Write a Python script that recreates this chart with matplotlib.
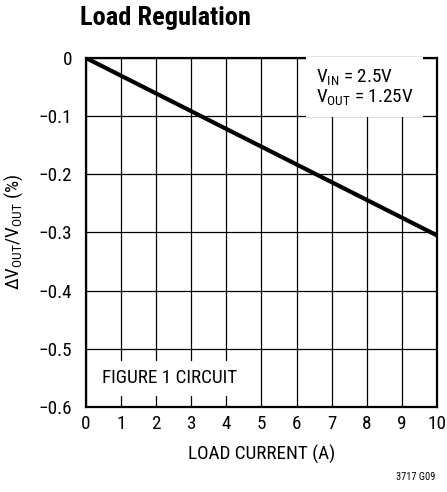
import matplotlib
matplotlib.use("Agg")
import matplotlib.pyplot as plt

fam = 'Roboto Condensed'
plt.rcParams['font.family'] = [fam, 'DejaVu Sans']
plt.rcParams['mathtext.fontset'] = 'custom'
plt.rcParams['mathtext.rm'] = fam
plt.rcParams['mathtext.it'] = fam
plt.rcParams['mathtext.bf'] = fam

load_current = [0, 10]
delta_vout = [0.0, -0.305]
x_ticks = list(range(0, 11))
y_ticks = [0, -0.1, -0.2, -0.3, -0.4, -0.5, -0.6]
y_tick_labels = ['0', '\u22120.1', '\u22120.2', '\u22120.3', '\u22120.4', '\u22120.5', '\u22120.6']

fs = 13.8
fig = plt.figure(figsize=(4.47, 4.92), dpi=100)
ax = fig.add_axes([0.1924, 0.1728, 0.7852, 0.7093])
ax.set_xlim(0, 10)
ax.set_ylim(-0.6, 0)
ax.set_xticks(x_ticks)
ax.set_yticks(y_ticks)
ax.set_yticklabels(y_tick_labels)
ax.grid(True, color='black', linewidth=0.9)
ax.tick_params(length=0, labelsize=fs)
ax.tick_params(axis='y', pad=10)
ax.tick_params(axis='x', pad=6)
for s in ax.spines.values():
    s.set_linewidth(1.6)
ax.plot(load_current, delta_vout, color='black', linewidth=3, solid_capstyle='butt', zorder=3)

ax.text(6.55, -0.05, 'V$_{\\mathregular{IN}}$ = 2.5V\nV$_{\\mathregular{OUT}}$ = 1.25V', fontsize=fs,
        va='center', ha='left', linespacing=1.0,
        bbox=dict(facecolor='white', edgecolor='none', pad=7), zorder=4)
ax.text(0.45, -0.551, 'FIGURE 1 CIRCUIT', fontsize=fs, va='center', ha='left',
        bbox=dict(facecolor='white', edgecolor='none', pad=6), zorder=4)

ax.set_xlabel('LOAD CURRENT (A)', fontsize=fs, labelpad=8)
ax.set_ylabel('\u0394V$_{\\mathregular{OUT}}$/V$_{\\mathregular{OUT}}$ (%)', fontsize=fs, labelpad=10)

fig.text(80/447, 1 - 18/492, 'Load Regulation', fontsize=19, fontweight='semibold', va='center', ha='left')
fig.text(435/447, 1 - 477/492, '3717 G09', fontsize=7.5, va='center', ha='right')

fig.savefig('out.png', dpi=100)
